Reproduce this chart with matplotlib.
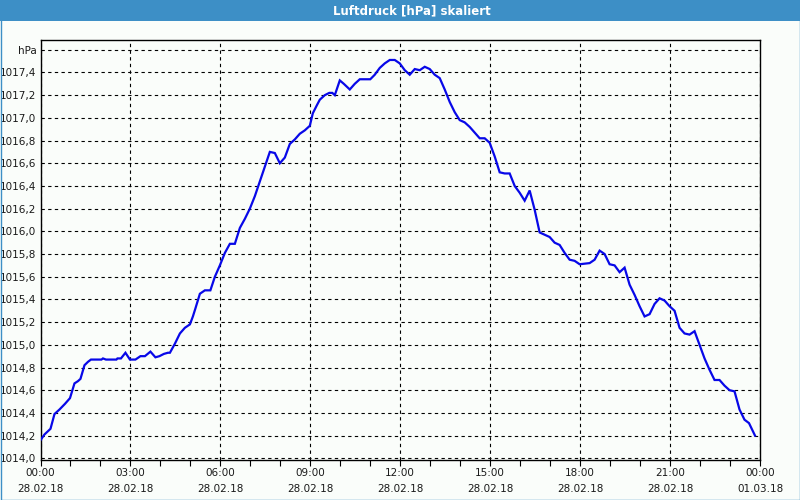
#!/usr/bin/env python3
# luftdruck.py - Luftdruck Tagesverlauf 28.02.18

import numpy as np
import pandas as pd
import matplotlib
matplotlib.use('Agg')
import matplotlib.pyplot as plt
import matplotlib.dates as mdates
from matplotlib.patches import Rectangle

# ----------------------------
# Daten
# ----------------------------
DATUM = '2018-02-28'

zeiten = ['00:00', '00:08', '00:20', '00:28', '00:38', '00:49', '00:59', '01:08', '01:15', '01:20',
          '01:28', '01:35', '01:41', '02:02', '02:05', '02:11', '02:32', '02:34', '02:41', '02:50',
          '02:59', '03:10', '03:20', '03:29', '03:40', '03:50', '03:58', '04:07', '04:15', '04:19',
          '04:29', '04:39', '04:49', '04:59', '05:05', '05:10', '05:19', '05:29', '05:40', '05:49',
          '05:59', '06:09', '06:19', '06:29', '06:39', '06:49', '06:59', '07:09', '07:19', '07:29',
          '07:39', '07:49', '07:59', '08:09', '08:19', '08:29', '08:39', '08:49', '08:59', '09:05',
          '09:13', '09:19', '09:29', '09:38', '09:44', '09:49', '09:59', '10:07', '10:19', '10:29',
          '10:39', '11:00', '11:09', '11:19', '11:29', '11:39', '11:49', '11:59', '12:09', '12:19',
          '12:29', '12:39', '12:49', '12:59', '13:09', '13:19', '13:29', '13:39', '13:49', '13:59',
          '14:09', '14:19', '14:29', '14:39', '14:49', '14:59', '15:09', '15:19', '15:29', '15:39',
          '15:49', '15:59', '16:09', '16:19', '16:29', '16:39', '16:49', '16:59', '17:09', '17:19',
          '17:29', '17:39', '17:49', '17:59', '18:19', '18:29', '18:39', '18:49', '18:59', '19:09',
          '19:19', '19:29', '19:39', '19:49', '19:59', '20:09', '20:19', '20:29', '20:39', '20:49',
          '20:59', '21:09', '21:19', '21:29', '21:39', '21:49', '21:59', '22:09', '22:19', '22:29',
          '22:39', '22:49', '22:59', '23:09', '23:19', '23:29', '23:38', '23:50']

druck = [1014.16, 1014.21, 1014.26, 1014.39, 1014.43, 1014.48, 1014.53, 1014.66, 1014.68, 1014.70,
         1014.82, 1014.85, 1014.87, 1014.87, 1014.88, 1014.87, 1014.87, 1014.88, 1014.88, 1014.93,
         1014.87, 1014.87, 1014.90, 1014.90, 1014.94, 1014.89, 1014.90, 1014.92, 1014.93, 1014.93,
         1015.01, 1015.10, 1015.15, 1015.18, 1015.25, 1015.32, 1015.45, 1015.48, 1015.48, 1015.60,
         1015.70, 1015.81, 1015.89, 1015.89, 1016.03, 1016.11, 1016.20, 1016.31, 1016.44, 1016.57,
         1016.70, 1016.69, 1016.60, 1016.65, 1016.77, 1016.81, 1016.86, 1016.89, 1016.93, 1017.04,
         1017.11, 1017.16, 1017.20, 1017.22, 1017.22, 1017.20, 1017.33, 1017.30, 1017.25, 1017.30,
         1017.34, 1017.34, 1017.38, 1017.44, 1017.48, 1017.51, 1017.51, 1017.48, 1017.42, 1017.38,
         1017.43, 1017.42, 1017.45, 1017.43, 1017.38, 1017.35, 1017.25, 1017.14, 1017.05, 1016.98,
         1016.96, 1016.92, 1016.87, 1016.82, 1016.82, 1016.78, 1016.66, 1016.52, 1016.51, 1016.51,
         1016.40, 1016.34, 1016.27, 1016.36, 1016.19, 1015.99, 1015.97, 1015.95, 1015.90, 1015.88,
         1015.81, 1015.75, 1015.74, 1015.71, 1015.72, 1015.75, 1015.83, 1015.80, 1015.71, 1015.70,
         1015.64, 1015.68, 1015.53, 1015.44, 1015.34, 1015.25, 1015.27, 1015.36, 1015.41, 1015.39,
         1015.34, 1015.30, 1015.15, 1015.10, 1015.09, 1015.12, 1015.00, 1014.88, 1014.78, 1014.69,
         1014.69, 1014.64, 1014.60, 1014.59, 1014.43, 1014.34, 1014.31, 1014.20]

y_ticks = [1014.0, 1014.2, 1014.4, 1014.6, 1014.8, 1015.0, 1015.2, 1015.4, 1015.6, 1015.8,
           1016.0, 1016.2, 1016.4, 1016.6, 1016.8, 1017.0, 1017.2, 1017.4, 1017.6]
y_labels = [f'{v:.1f}'.replace('.', ',') for v in y_ticks[:-1]] + ['hPa']

titel = 'Luftdruck [hPa] skaliert'

df = pd.DataFrame({'zeit': pd.to_datetime(DATUM + ' ' + pd.Series(zeiten)), 'druck': druck})

# ----------------------------
# Figur
# ----------------------------
BG = '#fafdfa'
BLAU = '#3d8fc6'
TEXT = '#1a1a1a'

fig = plt.figure(figsize=(8, 5), dpi=100, facecolor=BG)

# Titelleiste + Rahmen
fig.patches.append(Rectangle((0, 1 - 21 / 500), 1, 21 / 500, transform=fig.transFigure,
                             facecolor=BLAU, edgecolor='none', zorder=0))
fig.patches.append(Rectangle((0.5 / 800, 0.5 / 500), 1 - 1 / 800, 1 - 1 / 500, transform=fig.transFigure,
                             facecolor='none', edgecolor=BLAU, lw=1, zorder=1))
fig.text(412 / 800, 1 - 10.5 / 500, titel, color='white', fontsize=8.5, fontweight='bold',
         ha='center', va='center')

ax = fig.add_axes([40.5 / 800, 40 / 500, (760 - 40.5) / 800, 420 / 500])
ax.set_facecolor(BG)

ax.plot(df['zeit'], df['druck'], color='#0808e8', lw=1.6, solid_joinstyle='miter', zorder=3)

start = pd.Timestamp(DATUM)
ax.set_xlim(start, start + pd.Timedelta(hours=24))
ax.set_ylim(1013.985, 1017.686)

ax.xaxis.set_major_locator(mdates.HourLocator(interval=3))
ax.xaxis.set_minor_locator(mdates.HourLocator())
ax.xaxis.set_major_formatter(mdates.DateFormatter('%H:%M\n%d.%m.%y'))
ax.set_yticks(y_ticks)
ax.set_yticklabels(y_labels)

ax.tick_params(axis='x', which='both', direction='out', length=4, width=0.8, color='black',
               labelsize=7.5, pad=2, labelcolor=TEXT)
ax.tick_params(axis='y', length=0, labelsize=7.5, pad=3, labelcolor=TEXT)
for lbl in ax.get_xticklabels():
    lbl.set_linespacing(1.75)

ax.grid(True, which='major', color='black', lw=0.8, linestyle=(0, (3, 3)))
for sp in ax.spines.values():
    sp.set_color('black')
    sp.set_linewidth(1)

fig.savefig('out.png', dpi=100, facecolor=BG)
